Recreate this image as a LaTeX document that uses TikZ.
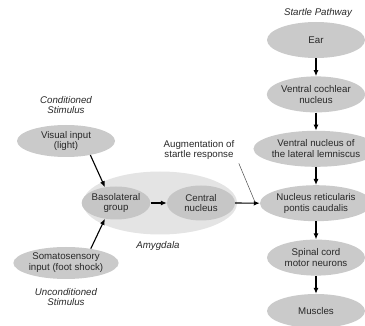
\documentclass[tikz,border=0pt]{standalone}
\usepackage{fontspec}
\setmainfont{Liberation Sans}
\usetikzlibrary{arrows.meta,positioning,shapes.geometric}
\definecolor{ovalgray}{RGB}{202,202,202}
\definecolor{amyggray}{RGB}{228,228,228}
\definecolor{innergray}{RGB}{198,198,198}
\definecolor{textgray}{RGB}{40,40,40}

\begin{document}
\begin{tikzpicture}[x=1pt,y=-1pt,node distance=18pt,>={Latex[length=6pt,width=5pt]}]
\tikzstyle{oval}=[ellipse,fill=ovalgray,inner sep=0pt,minimum width=98pt,minimum height=36pt,align=center,text=textgray,font=\fontsize{9.7}{10.8}\selectfont]
\tikzstyle{lbl}=[align=center,text=textgray,font=\fontsize{9.7}{10.8}\selectfont\itshape]
\useasboundingbox (0,0) rectangle (365,326);
% startle pathway
\node[lbl] (startlelbl) at (318,13) {Startle Pathway};
\node[oval] (ear) at (316,40) {Ear};
\node[oval,below=of ear] (cochlear) {Ventral cochlear\\nucleus};
\node[oval,below=of cochlear] (lemniscus) {Ventral nucleus of\\the lateral lemniscus};
\node[oval,below=of lemniscus] (reticularis) {Nucleus reticularis\\pontis caudalis};
\node[oval,below=of reticularis] (spinal) {Spinal cord\\motor neurons};
\node[oval,below=of spinal,minimum height=34pt] (muscles) {Muscles};
\foreach \a/\b in {ear/cochlear,cochlear/lemniscus,lemniscus/reticularis,reticularis/spinal,spinal/muscles}
  \draw[->,line width=1.1pt] (\a) -- (\b);
% stimuli
\node[lbl] (condlbl) at (66,105) {Conditioned\\Stimulus};
\node[oval,minimum height=32pt] (visual) at (66,141) {Visual input\\(light)};
\node[oval,minimum height=32pt] (somato) at (66,263) {Somatosensory\\input (foot shock)};
\node[lbl] (uncondlbl) at (66,297) {Unconditioned\\Stimulus};
% amygdala
\node[ellipse,fill=amyggray,minimum width=154pt,minimum height=63pt] (amygdala) at (160,203) {};
\node[oval,fill=innergray,minimum width=67pt,minimum height=33pt] (baso) at (116,203) {Basolateral\\group};
\node[oval,fill=innergray,minimum width=68pt,minimum height=35pt] (central) at (201,203) {Central\\nucleus};
\node[lbl] (amyglbl) at (158,246) {Amygdala};
\draw[->,line width=1.1pt] (visual.-30) -- (baso.125);
\draw[->,line width=1.1pt] (somato.30) -- (baso.-125);
\draw[->,line width=1.1pt] (baso) -- (central);
\draw[->,line width=1.1pt] (central.east) -- (reticularis.west);
% augmentation
\node[align=center,text=textgray,font=\fontsize{9.7}{10.8}\selectfont] (auglbl) at (199,150) {Augmentation of\\startle response};
\coordinate (augjoin) at (255,202);
\draw[line width=0.5pt,black!70] ([xshift=1pt]auglbl.south east) -- (augjoin);
\end{tikzpicture}
\end{document}
